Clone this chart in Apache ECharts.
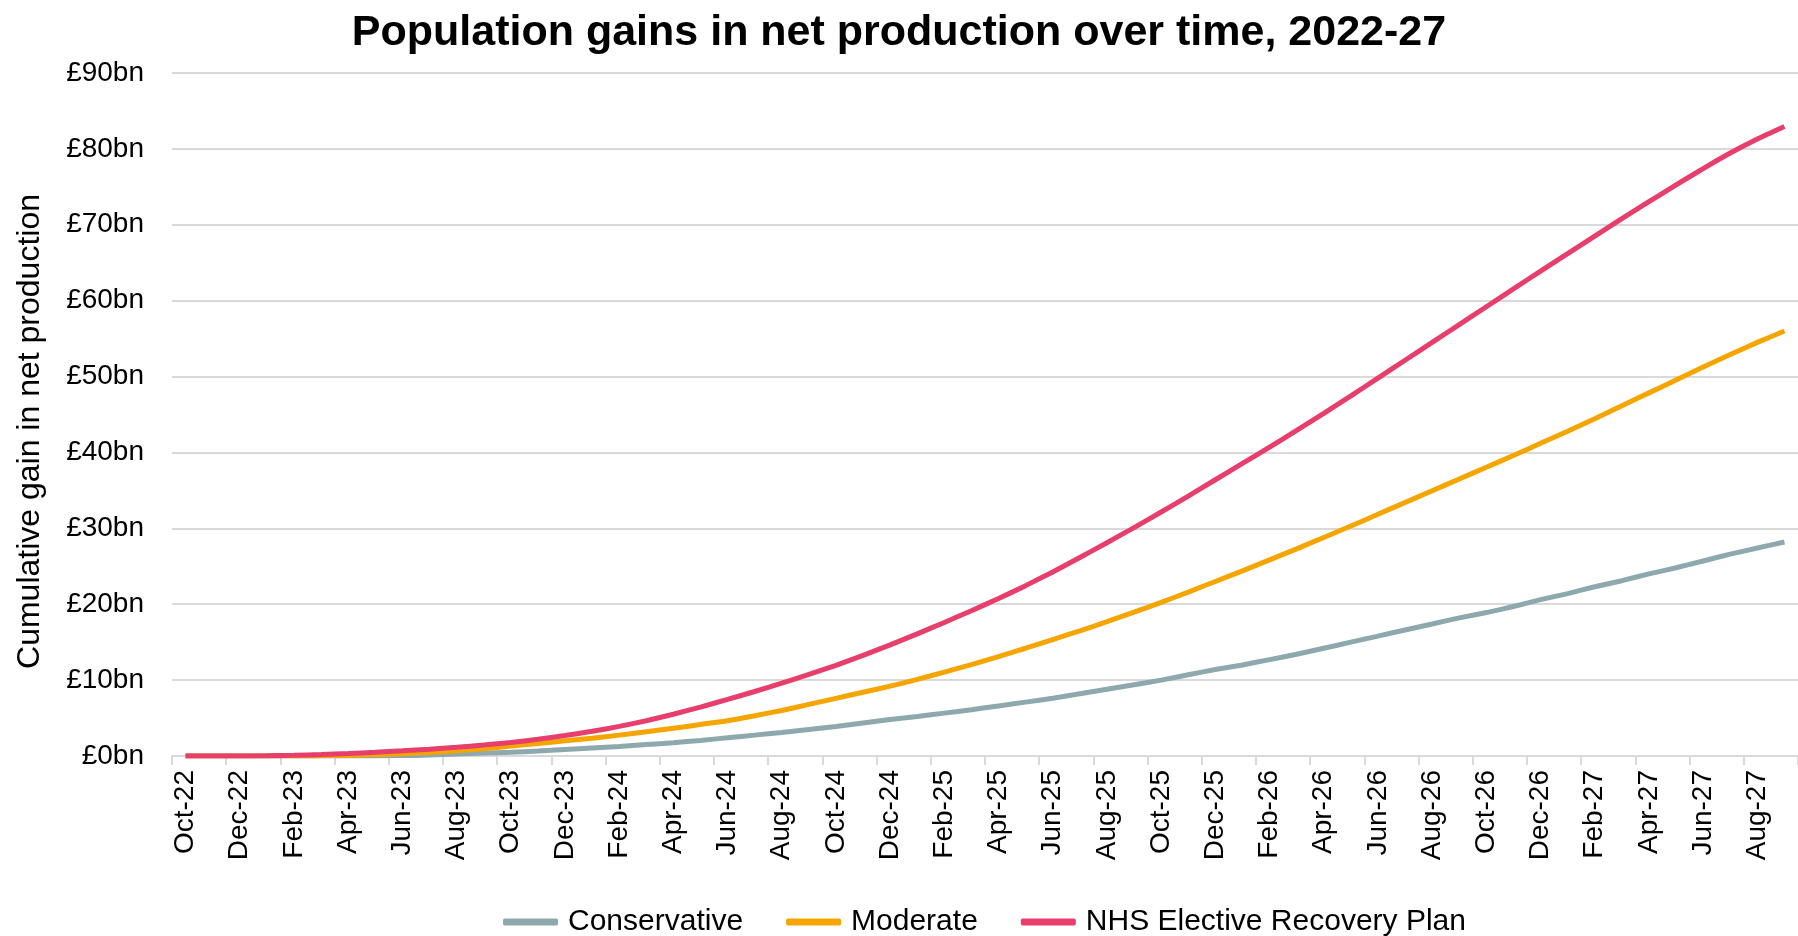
<!DOCTYPE html>
<html>
<head>
<meta charset="utf-8">
<script src="https://cdn.jsdelivr.net/npm/echarts@6/dist/echarts.min.js"></script>
<style>
html,body{margin:0;padding:0;background:#fff;}
#chart{width:1798px;height:936px;}
</style>
</head>
<body>
<div id="chart"></div>
<script>
const months = ['Oct-22','Nov-22','Dec-22','Jan-23','Feb-23','Mar-23','Apr-23','May-23','Jun-23','Jul-23','Aug-23','Sep-23',
'Oct-23','Nov-23','Dec-23','Jan-24','Feb-24','Mar-24','Apr-24','May-24','Jun-24','Jul-24','Aug-24','Sep-24',
'Oct-24','Nov-24','Dec-24','Jan-25','Feb-25','Mar-25','Apr-25','May-25','Jun-25','Jul-25','Aug-25','Sep-25',
'Oct-25','Nov-25','Dec-25','Jan-26','Feb-26','Mar-26','Apr-26','May-26','Jun-26','Jul-26','Aug-26','Sep-26',
'Oct-26','Nov-26','Dec-26','Jan-27','Feb-27','Mar-27','Apr-27','May-27','Jun-27','Jul-27','Aug-27','Sep-27'];

const conservative = [0,0,0,0,0,0,0,0,0.05,0.12,0.25,0.38,
0.5,0.65,0.85,1.05,1.25,1.5,1.75,2.05,2.4,2.75,3.1,3.5,
3.9,4.35,4.8,5.2,5.65,6.1,6.6,7.1,7.6,8.2,8.8,9.4,
10.0,10.7,11.4,12.0,12.7,13.4,14.2,15.0,15.8,16.6,17.4,18.2,
18.9,19.7,20.6,21.4,22.3,23.1,24.0,24.8,25.7,26.6,27.4,28.2];

const moderate = [0,0,0,0,0,0.03,0.08,0.18,0.3,0.47,0.68,0.95,
1.3,1.65,2.0,2.35,2.75,3.2,3.65,4.15,4.65,5.3,6.0,6.8,
7.6,8.4,9.2,10.1,11.05,12.05,13.1,14.2,15.35,16.5,17.7,18.95,
20.25,21.6,23.0,24.4,25.85,27.3,28.8,30.3,31.85,33.4,34.95,36.5,
38.05,39.6,41.2,42.8,44.45,46.15,47.85,49.55,51.25,52.9,54.5,56.0];

const nhsPlan = [0,0,0,0.03,0.1,0.2,0.33,0.49,0.68,0.9,1.15,1.44,
1.77,2.2,2.7,3.25,3.9,4.65,5.5,6.45,7.45,8.5,9.6,10.75,
11.95,13.25,14.65,16.1,17.6,19.15,20.75,22.45,24.25,26.15,28.1,30.1,
32.15,34.25,36.4,38.55,40.7,42.9,45.15,47.45,49.8,52.15,54.5,56.85,
59.2,61.55,63.9,66.2,68.5,70.8,73.05,75.25,77.4,79.45,81.3,82.95];

const seriesNames = ['Conservative','Moderate','NHS Elective Recovery Plan'];
const yTicks = [0,10,20,30,40,50,60,70,80,90];

const font = 'Liberation Sans, Arial, sans-serif';
const chart = echarts.init(document.getElementById('chart'));
chart.setOption({
  animation: false,
  backgroundColor: '#ffffff',
  title: {
    text: 'Population gains in net production over time, 2022-27',
    left: 'center',
    top: 7,
    textStyle: {fontFamily: font, fontSize: 43, fontWeight: 'bold', color: '#000'}
  },
  legend: {
    data: seriesNames,
    top: 902,
    left: 498,
    icon: 'roundRect',
    itemWidth: 55,
    itemHeight: 7,
    itemGap: 43,
    textStyle: {fontFamily: font, fontSize: 30, color: '#000', padding: [0, 0, 0, 5]}
  },
  grid: {left: 172, top: 73, bottom: 180, width: 1643, containLabel: false},
  xAxis: {
    type: 'category',
    data: months,
    boundaryGap: true,
    axisLine: {lineStyle: {color: '#d9d9d9', width: 2}},
    axisTick: {show: true, length: 9, lineStyle: {color: '#d9d9d9', width: 2}},
    axisLabel: {interval: 1, rotate: 90, fontFamily: font, fontSize: 28, color: '#000', margin: 14}
  },
  yAxis: {
    type: 'value',
    min: yTicks[0],
    max: yTicks[yTicks.length - 1],
    interval: 10,
    name: 'Cumulative gain in net production',
    nameLocation: 'middle',
    nameGap: 126,
    nameTextStyle: {fontFamily: font, fontSize: 32, color: '#000', padding: [0, 34, 0, 0]},
    axisLine: {show: false},
    axisTick: {show: false},
    splitLine: {lineStyle: {color: '#d9d9d9', width: 2}},
    axisLabel: {fontFamily: font, fontSize: 28, color: '#000', margin: 28, formatter: v => '£' + v + 'bn'}
  },
  series: [
    {name: seriesNames[0], type: 'line', data: conservative, showSymbol: false, smooth: 0.2,
     lineStyle: {color: '#8ea9ad', width: 5}, itemStyle: {color: '#8ea9ad'}},
    {name: seriesNames[1], type: 'line', data: moderate, showSymbol: false, smooth: 0.2,
     lineStyle: {color: '#f5a500', width: 5}, itemStyle: {color: '#f5a500'}},
    {name: seriesNames[2], type: 'line', data: nhsPlan, showSymbol: false, smooth: 0.2,
     lineStyle: {color: '#e83e6c', width: 5}, itemStyle: {color: '#e83e6c'}}
  ]
});
</script>
</body>
</html>
